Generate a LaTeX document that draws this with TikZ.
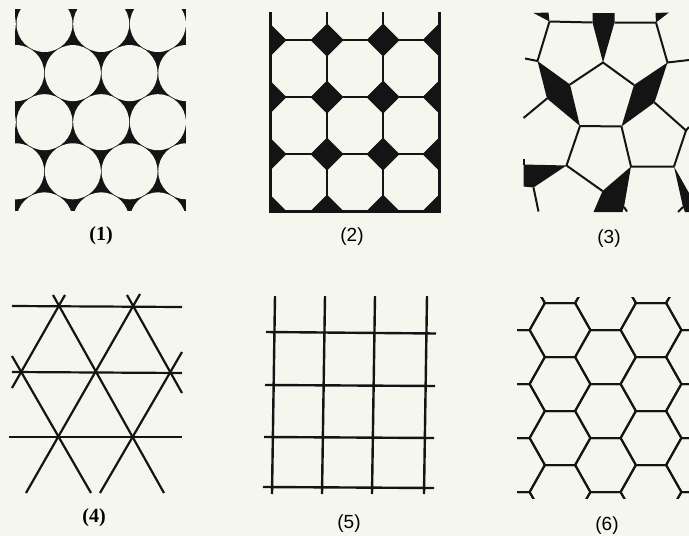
\documentclass[tikz,border=0pt]{standalone}
\usepackage{fontspec}
\setmainfont{Liberation Serif}
\setsansfont{Liberation Sans}
\definecolor{paper}{HTML}{F5F7EE}
\definecolor{ink}{HTML}{141414}

\begin{document}
\begin{tikzpicture}[
    x=1pt, y=-1pt,
    tileline/.style={draw=ink, line width=2pt},
    gridline/.style={draw=ink, line width=2.4pt},
    hole/.style={fill=paper},
    serifnum/.style={font=\rmfamily\bfseries\fontsize{20}{23}\selectfont, inner sep=0pt},
    sansnum/.style={font=\sffamily\fontsize{19}{22}\selectfont, inner sep=0pt}
]

% page
\fill[paper] (0,0) rectangle (689,536);
\useasboundingbox (0,0) rectangle (689,536);

% (1) close packed circles
\fill[ink] (15,9) rectangle (186,211);
\begin{scope}
  \clip (15,9) rectangle (186,211);
  \foreach \r in {0,...,4}
    \foreach \c in {-1,...,3}
      \fill[hole] ({44.5+56.7*\c+28.35*mod(\r,2)},{24+49.1*\r}) circle (28);
\end{scope}
\node[serifnum] (num1) at (101,236) {(1)};

% (2) octagons and squares
\begin{scope}
  \clip (270,12) rectangle (439,211);
  \foreach \gx in {270,327,383,439}
    \foreach \gy in {40,97,154,211}
      \fill[ink] (\gx-16.5,\gy) -- (\gx,\gy-16.5) -- (\gx+16.5,\gy) -- (\gx,\gy+16.5) -- cycle;
\end{scope}
\foreach \gx in {327,383}
  \draw[tileline, line width=1.6pt] (\gx,12) -- (\gx,211);
\foreach \gy in {40,97,154}
  \draw[tileline, line width=1.6pt] (270,\gy) -- (439,\gy);
\draw[tileline, line width=3pt] (270,12) -- (270,211) -- (439,211) -- (439,12);
\node[sansnum] (num2) at (352,237) {(2)};

% (3) pentagons with black wedges
\coordinate (nw) at (549.5,21.5);
\coordinate (wl) at (592.5,22.5);
\coordinate (wr) at (614.5,22.5);
\coordinate (ne) at (656,22.5);
\coordinate (tip) at (603,62.5);
\coordinate (west) at (537.5,61);
\coordinate (east) at (667.5,62.5);
\coordinate (ml) at (570,84.5);
\coordinate (mr) at (634,85);
\coordinate (lw) at (547,98.5);
\coordinate (bl) at (580,126);
\coordinate (br) at (621.5,126.5);
\coordinate (rw) at (654.5,102.5);
\coordinate (re) at (686,130.5);
\coordinate (sw) at (566.5,165.5);
\coordinate (south) at (631,166.5);
\coordinate (se) at (674,166.5);
\coordinate (bt) at (602.5,191);
\coordinate (lo) at (533.5,187.5);
\coordinate (bo) at (624,207);
\coordinate (ro) at (683,207);

\fill[ink] (533.5,13) -- (548.5,12.5) -- (nw) -- cycle;
\fill[ink] (592.5,13) -- (614.5,13) -- (wr) -- (tip) -- (wl) -- cycle;
\fill[ink] (655.5,13) -- (669,12.5) -- (ne) -- cycle;
\fill[ink] (west) -- (ml) -- (bl) -- (lw) -- cycle;
\fill[ink] (east) -- (mr) -- (br) -- (rw) -- cycle;
\fill[ink] (523.5,164.5) -- (sw) -- (lo) -- (523.5,186.5) -- cycle;
\fill[ink] (593.5,212) -- (bt) -- (south) -- (bo) -- (622.5,212) -- cycle;
\fill[ink] (se) -- (689,193) -- (689,212) -- (685,212) -- (ro) -- cycle;

\draw[tileline] (nw) -- (wl) (wr) -- (ne);
\draw[tileline] (525,58.5) -- (west) -- (nw);
\draw[tileline] (ne) -- (east) -- (689,60);
\draw[tileline] (ml) -- (tip) -- (mr);
\draw[tileline] (lw) -- (523.5,118);
\draw[tileline] (bl) -- (br);
\draw[tileline] (rw) -- (re) -- (689,127);
\draw[tileline] (re) -- (se);
\draw[tileline] (bl) -- (sw) -- (bt);
\draw[tileline] (br) -- (south) -- (se);
\draw[tileline] (523.5,159) -- (523.5,165);
\draw[tileline] (lo) -- (538.5,211.5);
\draw[tileline] (bo) -- (627,211.5);
\draw[tileline] (ro) -- (678,212);
\node[sansnum] (num3) at (609,239) {(3)};

% (4) lines of a triangular net
\draw[tileline, line width=2.2pt] (12,306) -- (182,307);
\draw[tileline, line width=2.2pt] (12,372) -- (182,373);
\draw[tileline, line width=2.2pt] (9,437) -- (182,437);
\draw[tileline, line width=2.2pt] (65,295) -- (12,388);
\draw[tileline, line width=2.2pt] (140,294) -- (26,493);
\draw[tileline, line width=2.2pt] (182,352) -- (100,493);
\draw[tileline, line width=2.2pt] (53,295) -- (164,493);
\draw[tileline, line width=2.2pt] (127,295) -- (182,393);
\draw[tileline, line width=2.2pt] (12,356) -- (91,493);
\node[serifnum] (num4) at (94,518) {(4)};

% (5) square grid
\draw[gridline] (275,296) -- (272,494);
\draw[gridline] (325,296) -- (322,494);
\draw[gridline] (375,296) -- (372,494);
\draw[gridline] (427,296) -- (424,494);
\draw[gridline] (266,332) -- (436,333.5);
\draw[gridline] (265,385) -- (435,386);
\draw[gridline] (264,437) -- (434,438);
\draw[gridline] (263,487) -- (434,488);
\node[sansnum] (num5) at (349,524) {(5)};

% (6) honeycomb
\begin{scope}
  \clip (517,297) rectangle (689,498);
  \foreach \j in {0,...,4}
    \foreach \k in {-1,...,4}
      \draw[tileline] ({514.5+45.5*\j-30.5},{303+54*\k+27*mod(\j,2)})
        -- ++(15.25,-27) -- ++(30.5,0) -- ++(15.25,27)
        -- ++(-15.25,27) -- ++(-30.5,0) -- cycle;
\end{scope}
\node[sansnum] (num6) at (607,526) {(6)};

\end{tikzpicture}
\end{document}
